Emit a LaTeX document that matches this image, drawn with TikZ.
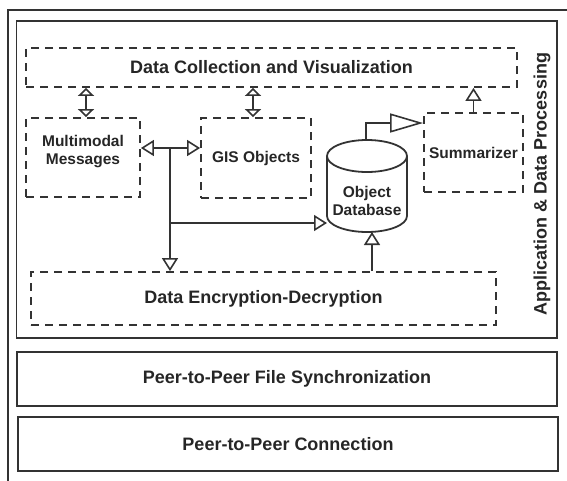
\documentclass[tikz,border=0pt]{standalone}
\usepackage{fontspec}
\setmainfont{Liberation Sans}
\usetikzlibrary{arrows.meta,calc}

\begin{document}
\begin{tikzpicture}[
      x=1pt, y=-1pt,
      % the layer boxes:
      every node/.style={font=\bfseries\fontsize{18}{20}\selectfont, text=black!85, inner sep=0pt},
      layer/.style={draw=black!80, line width=1.8pt, rectangle},
      dashbox/.style={draw=black!80, line width=1.8pt, dash pattern=on 8pt off 6pt, rectangle},
      small/.style={font=\bfseries\fontsize{15.5}{18}\selectfont, align=center},
      wire/.style={draw=black!80, line width=1.8pt},
      tri/.style={-{Triangle[open, length=13pt, width=16pt, line width=1.6pt]}},
      bigtri/.style={-{Triangle[open, length=33pt, width=19pt, line width=1.6pt]}},
      both/.style={{Triangle[open, length=8pt, width=16pt, line width=1.6pt]}-{Triangle[open, length=8pt, width=16pt, line width=1.6pt]}}
  ]
  \useasboundingbox (0,0) rectangle (567,480);
  \clip (0,0) rectangle (567,480);

  %%%%%%%%%%%%%%%%%%%%%%%%%%%%%%%%%%%%%%%%%%%%%%%%%%%%%%%%
  % outer frame and application layer
  %%%%%%%%%%%%%%%%%%%%%%%%%%%%%%%%%%%%%%%%%%%%%%%%%%%%%%%%
  \node[layer, minimum width=580pt, minimum height=490pt, anchor=north west] (frame) at (7,9) {};
  \node[layer, minimum width=540.5pt, minimum height=317pt] (app) at (286.75,179.5) {};
  \node[rotate=90] (applabel) at (542,184) {Application \& Data Processing};

  %%%%%%%%%%%%%%%%%%%%%%%%%%%%%%%%%%%%%%%%%%%%%%%%%%%%%%%%
  % dashed modules
  %%%%%%%%%%%%%%%%%%%%%%%%%%%%%%%%%%%%%%%%%%%%%%%%%%%%%%%%
  \node[dashbox, minimum width=491pt, minimum height=39pt] (collect) at (271.5,67.5) {Data Collection and Visualization};
  \node[dashbox, minimum width=114pt, minimum height=79pt,
        label={[small, yshift=6pt]center:Multimodal\\Messages}] (mm) at (83,157.5) {};
  \node[dashbox, small, minimum width=110pt, minimum height=80pt] (gis) at (256,158) {GIS Objects};
  \node[dashbox, small, minimum width=99pt, minimum height=79pt] (summ) at (473.5,152.5) {Summarizer};
  \node[dashbox, minimum width=465pt, minimum height=53pt] (crypt) at (263.5,298.5) {Data Encryption-Decryption};

  % Object database (cylinder drawn by hand)
  \node[small, minimum width=80pt] (db) at (367,200.5) {Object\\Database};
  \draw[wire] (327,156) -- (327,216) arc[start angle=180, end angle=0, x radius=40, y radius=16] -- (407,156);
  \draw[wire] (367,156) ellipse[x radius=40, y radius=16];
  \coordinate (dbtop) at (366,140);
  \coordinate (dbbot) at (372,232);
  \coordinate (dbleft) at (327,223);

  %%%%%%%%%%%%%%%%%%%%%%%%%%%%%%%%%%%%%%%%%%%%%%%%%%%%%%%%
  % connectors
  %%%%%%%%%%%%%%%%%%%%%%%%%%%%%%%%%%%%%%%%%%%%%%%%%%%%%%%%
  \draw[wire, both] ([xshift=3pt]mm.north) -- ([xshift=3pt]mm.north |- collect.south);
  \draw[wire, both] ([xshift=-3pt]gis.north) -- ([xshift=-3pt]gis.north |- collect.south);
  \draw[wire, tri] (summ.north) -- (summ.north |- collect.south);

  % junction between the messages and GIS objects
  \coordinate (jn) at (170,148);
  \draw[wire, tri] (jn) -- (jn -| mm.east);
  \draw[wire, tri] (jn) -- (jn -| gis.west);
  \draw[wire, tri] (jn) -- (jn |- crypt.north);
  \draw[wire, tri] (jn |- dbleft) -- (dbleft);

  % database links
  \draw[wire, tri] (dbbot |- crypt.north) -- (dbbot);
  \draw[wire, bigtri] (dbtop) -- (366,123) -- (366,123 -| summ.west);

  %%%%%%%%%%%%%%%%%%%%%%%%%%%%%%%%%%%%%%%%%%%%%%%%%%%%%%%%
  % lower layers
  %%%%%%%%%%%%%%%%%%%%%%%%%%%%%%%%%%%%%%%%%%%%%%%%%%%%%%%%
  \node[layer, minimum width=540pt, minimum height=54pt] (sync) at (287,379) {Peer-to-Peer File Synchronization};
  \node[layer, minimum width=540pt, minimum height=54pt] (conn) at (288,444) {Peer-to-Peer Connection};

\end{tikzpicture}
\end{document}
